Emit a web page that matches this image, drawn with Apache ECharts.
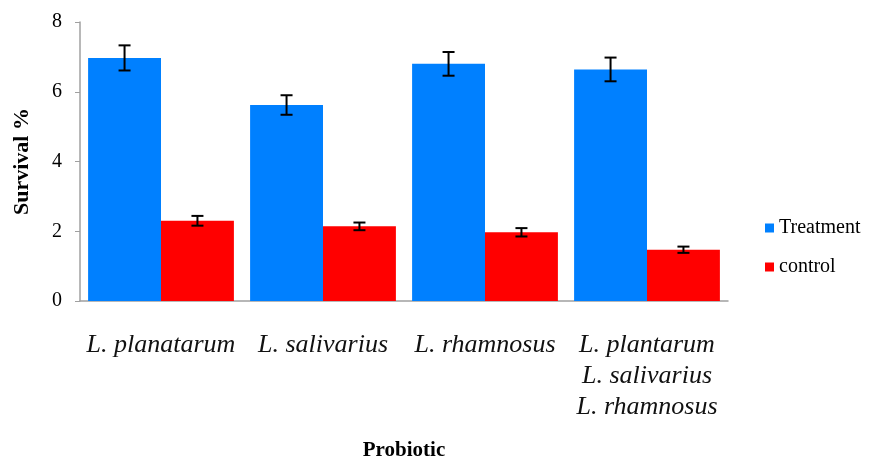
<!DOCTYPE html>
<html><head><meta charset="utf-8">
<script src="https://cdn.jsdelivr.net/npm/echarts@6/dist/echarts.min.js"></script>
<style>html,body{margin:0;padding:0;background:#fff}#c{width:870px;height:458px}</style>
</head><body><div id="c"></div>
<script>
var categories = ['L. planatarum', 'L. salivarius', 'L. rhamnosus', 'L. plantarum\nL. salivarius\nL. rhamnosus'];
var treatment = [6.97, 5.62, 6.80, 6.64];
var treatmentErr = [0.36, 0.28, 0.34, 0.34];
var control = [2.30, 2.14, 1.97, 1.47];
var controlErr = [0.14, 0.11, 0.12, 0.09];
var yTicks = [0, 2, 4, 6, 8];

var chart = echarts.init(document.getElementById('c'));
var font = 'Liberation Serif';
var catGapRatio = 0.10;

function errSeries(vals, errs, side) {
  return {
    type: 'custom',
    z: 10,
    data: vals.map(function (v, i) { return [i, v - errs[i], v + errs[i]]; }),
    renderItem: function (params, api) {
      var band = api.size([1, 0])[0];
      var barW = band * (1 - catGapRatio) / 2;
      var off = side * barW / 2;
      var lo = api.coord([api.value(0), api.value(1)]);
      var hi = api.coord([api.value(0), api.value(2)]);
      var x = lo[0] + off;
      var cap = 6;
      var st = { stroke: '#000', lineWidth: 2 };
      return { type: 'group', children: [
        { type: 'line', shape: { x1: x, y1: hi[1], x2: x, y2: lo[1] }, style: st },
        { type: 'line', shape: { x1: x - cap, y1: hi[1], x2: x + cap, y2: hi[1] }, style: st },
        { type: 'line', shape: { x1: x - cap, y1: lo[1], x2: x + cap, y2: lo[1] }, style: st }
      ]};
    }
  };
}

chart.setOption({
  animation: false,
  textStyle: { fontFamily: font },
  grid: { left: 80, right: 142, top: 22, bottom: 157, containLabel: false, outerBoundsMode: 'none' },
  legend: {
    orient: 'vertical', left: 760, top: 213, itemGap: 19,
    itemWidth: 9, itemHeight: 9, icon: 'rect',
    textStyle: { fontFamily: font, fontSize: 20, color: '#000' },
    data: ['Treatment', 'control']
  },
  xAxis: {
    type: 'category', data: categories,
    name: 'Probiotic', nameLocation: 'middle', nameGap: 139,
    nameTextStyle: { fontFamily: font, fontSize: 21, fontWeight: 'bold', color: '#000' },
    axisLine: { lineStyle: { color: '#a0a0a0', width: 1.5 } },
    axisTick: { show: false },
    axisLabel: { fontFamily: font, fontStyle: 'italic', fontSize: 26, color: '#111', lineHeight: 31, margin: 29, interval: 0 }
  },
  yAxis: {
    type: 'value', min: 0, max: 8, interval: 2,
    name: 'Survival %', nameLocation: 'middle', nameGap: 47, nameRotate: 90,
    nameTextStyle: { fontFamily: font, fontSize: 22, fontWeight: 'bold', color: '#000' },
    axisLine: { show: true, lineStyle: { color: '#a0a0a0', width: 1.5 } },
    axisTick: { show: true, length: 5, lineStyle: { color: '#a0a0a0' } },
    splitLine: { show: false },
    axisLabel: { fontFamily: font, fontSize: 20, color: '#000', margin: 18,
      formatter: function (v) { return yTicks.indexOf(v) >= 0 ? String(v) : ''; } }
  },
  series: [
    { name: 'Treatment', type: 'bar', data: treatment, barGap: '0%', barCategoryGap: '10%',
      itemStyle: { color: '#0080ff' } },
    { name: 'control', type: 'bar', data: control, barGap: '0%', barCategoryGap: '10%',
      itemStyle: { color: '#ff0000' } },
    errSeries(treatment, treatmentErr, -1),
    errSeries(control, controlErr, 1)
  ]
});
</script></body></html>
